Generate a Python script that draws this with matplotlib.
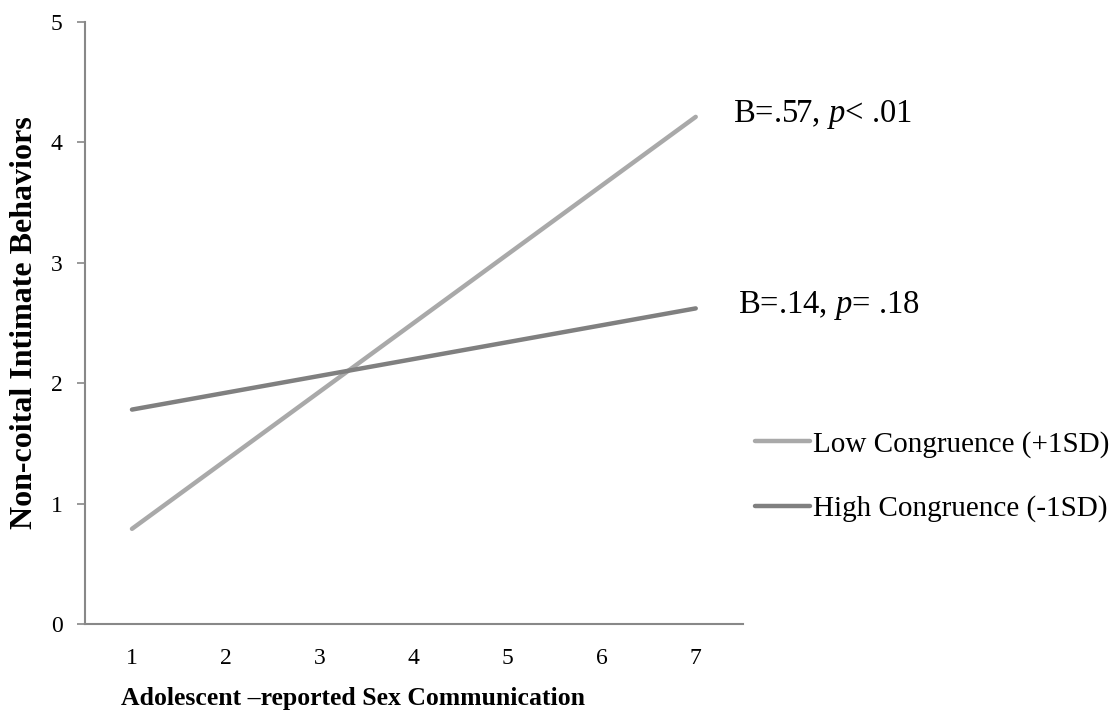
import matplotlib
matplotlib.use('Agg')
import matplotlib.pyplot as plt

plt.rcParams['font.family'] = ['Liberation Serif', 'DejaVu Serif']
plt.rcParams['mathtext.fontset'] = 'custom'
plt.rcParams['mathtext.rm'] = 'Liberation Serif'
plt.rcParams['mathtext.it'] = 'Liberation Serif:italic'

# values
communication = [1, 2, 3, 4, 5, 6, 7]
low_congruence = [0.79, 1.36, 1.93, 2.50, 3.07, 3.64, 4.21]
high_congruence = [1.78, 1.92, 2.06, 2.20, 2.34, 2.48, 2.62]
series_labels = ['Low Congruence (+1SD)', 'High Congruence (-1SD)']
slope_notes = [r'B=.57, $\it{p}$< .01', r'B=.14, $\it{p}$= .18']

W, H = 1117, 717
fig = plt.figure(figsize=(W / 100, H / 100), dpi=100)
ax = fig.add_axes([85 / W, 1 - 624 / H, (742.7 - 85) / W, (624 - 21.7) / H])

light = '#a9a9a9'
dark = '#808080'
ax.plot(communication, low_congruence, color=light, linewidth=3.2,
        solid_capstyle='round', label=series_labels[0])
ax.plot(communication, high_congruence, color=dark, linewidth=3.2,
        solid_capstyle='round', label=series_labels[1])

ax.set_xlim(0.5, 7.5)
ax.set_ylim(0, 5)
ax.set_xticks(communication)
ax.set_yticks([0, 1, 2, 3, 4, 5])
ax.tick_params(axis='x', length=0, labelsize=17, pad=17)
ax.tick_params(axis='y', length=6, width=1.2, color='#888888', labelsize=17, pad=10)

for side in ['top', 'right']:
    ax.spines[side].set_visible(False)
for side in ['left', 'bottom']:
    ax.spines[side].set_color('#888888')
    ax.spines[side].set_linewidth(1.5)

ax.set_xlabel('Adolescent \u2013reported Sex Communication', fontsize=18.5,
              fontweight='bold')
ax.xaxis.set_label_coords((353 - 85) / 657.7, -(698 - 624) / 602.3)
ax.xaxis.label.set_va('center')
ax.set_ylabel('Non-coital Intimate Behaviors', fontsize=23, fontweight='bold')
ax.yaxis.set_label_coords(-(85 - 25) / 657.7, 0.5)
ax.yaxis.label.set_va('center')

# slope annotations at the right end of each line
ax.annotate(slope_notes[0], xy=(communication[-1], low_congruence[-1]),
            xytext=(37, 2), textcoords='offset pixels', va='center',
            fontsize=23.5)
ax.annotate(slope_notes[1], xy=(communication[-1], high_congruence[-1]),
            xytext=(42, 3), textcoords='offset pixels', va='center',
            fontsize=23.5)

ax.legend(loc='center left', bbox_to_anchor=(755 / W, 1 - 476.5 / H),
          bbox_transform=fig.transFigure, frameon=False, fontsize=21,
          handlelength=1.88, handletextpad=0.1, labelspacing=1.3,
          borderpad=0, borderaxespad=0)

fig.savefig('out.png', dpi=100)
